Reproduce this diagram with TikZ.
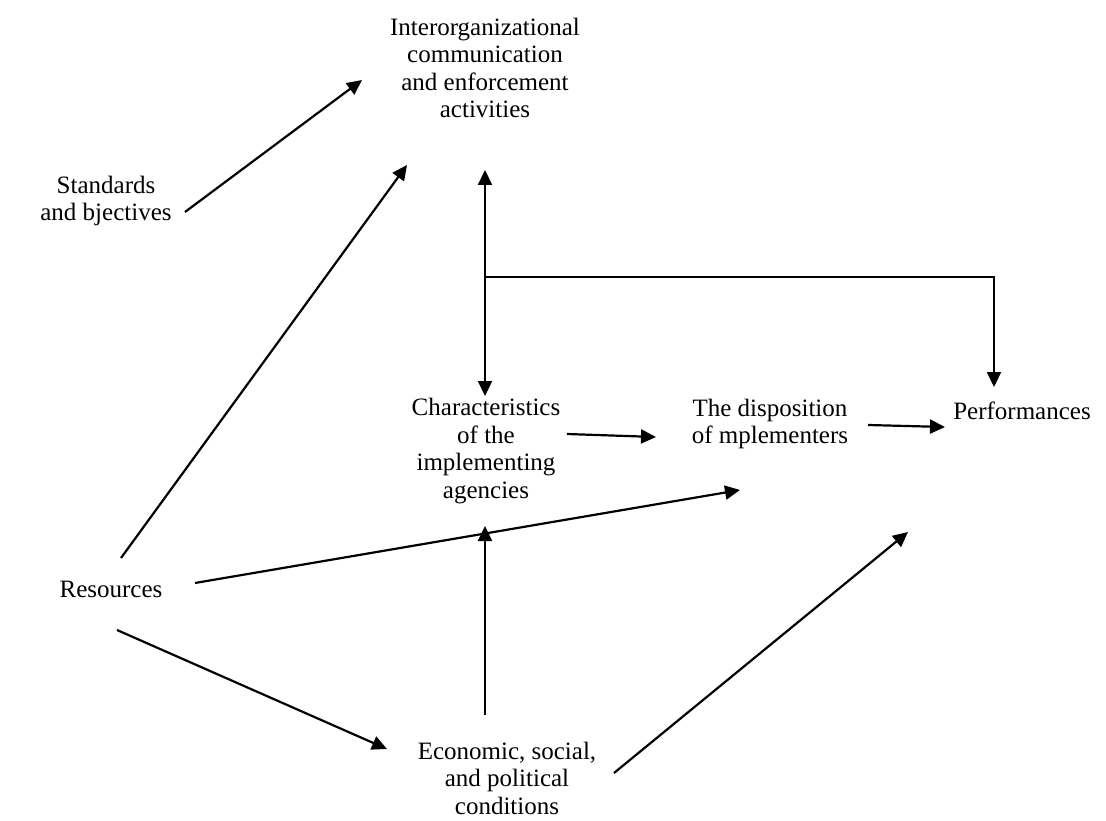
\documentclass[tikz,border=0pt]{standalone}
\usepackage{fontspec}
\setmainfont{Liberation Serif}
\usetikzlibrary{arrows.meta}
\tikzset{
  label/.style={align=center,inner sep=0pt,font=\fontsize{25}{27.5}\selectfont},
  link/.style={line width=2.2pt,-{Triangle[length=15pt,width=14pt]}},
  bothlink/.style={line width=2.2pt,{Triangle[length=15pt,width=14pt]}-{Triangle[length=15pt,width=14pt]}}
}
\begin{document}
\begin{tikzpicture}[x=1pt,y=-1pt]
\useasboundingbox (0,0) rectangle (1106,821);
% texts
	\node[label] (comm) at (485,68) {Interorganizational\\communication\\and enforcement\\activities};
	\node[label] (stand) at (106,201) {Standards\\and bjectives};
	\node[label] (agency) at (486,451) {Characteristics\\of the\\implementing\\agencies};
	\node[label] (dispo) at (770,424) {The disposition\\of mplementers};
	\node[label] (perf) at (1022,411) {Performances};
	\node[label] (res) at (111,589) {Resources};
	\node[label] (econ) at (507,778) {Economic, social,\\and political\\conditions};
% arrows
	\draw[link] ([shift={(79,11)}]stand.center) -- ([shift={(-123,12)}]comm.center);
	\draw[link] ([shift={(10,-31)}]res.center) -- ([shift={(-78,97)}]comm.center);
	\draw[bothlink] ([shift={(0,102)}]comm.center) -- ([shift={(-1,-55)}]agency.center);
	\draw[link] ([shift={(0,209)}]comm.center) -| ([shift={(-28,-24)}]perf.center);
	\draw[link] ([shift={(81,-17)}]agency.center) -- ([shift={(-114,13)}]dispo.center);
	\draw[link] ([shift={(98,1)}]dispo.center) -- ([shift={(-77,16)}]perf.center);
	\draw[link] ([shift={(84,-6)}]res.center) -- ([shift={(-30,66)}]dispo.center);
	\draw[link] ([shift={(6,41)}]res.center) -- ([shift={(-120,-29)}]econ.center);
	\draw[link] ([shift={(-22,-63)}]econ.center) -- ([shift={(-1,75)}]agency.center);
	\draw[link] ([shift={(107,-5)}]econ.center) -- ([shift={(-114,121)}]perf.center);
\end{tikzpicture}
\end{document}
